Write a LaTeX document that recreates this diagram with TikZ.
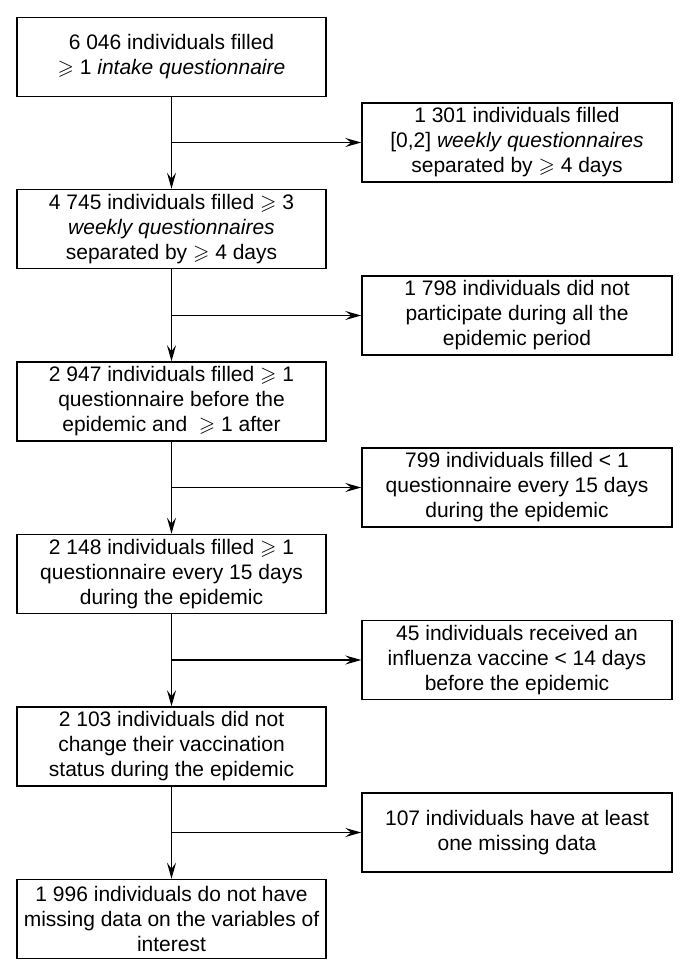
\documentclass[tikz,border=0pt]{standalone}
\usepackage{amssymb}
\usepackage{fontspec}
\setmainfont{Liberation Sans}
\usepackage{tikz}
\usetikzlibrary{arrows.meta,positioning,calc}

\newcommand{\atleast}{$\geqslant$}

\tikzset{
  stagebox/.style={draw,line width=1.5pt,minimum width=309pt,minimum height=79pt,
    align=center,inner sep=2pt,font=\fontsize{21pt}{25pt}\selectfont},
  dropbox/.style={stagebox,minimum width=310pt},
  flow/.style={line width=1.2pt,-{Stealth[length=16pt,width=9pt,inset=6pt]}}
}

\begin{document}
\begin{tikzpicture}[x=1pt,y=-1pt]
  \useasboundingbox (0,0) rectangle (690,976);

  % main stages
  \node[stagebox] (b1) at (171.5,57) {6 046 individuals filled\\ \atleast{} 1 \textit{intake questionnaire}};
  \node[stagebox] (b2) at (171.5,229) {4 745 individuals filled \atleast{} 3\\ \textit{weekly questionnaires}\\ separated by \atleast{} 4 days};
  \node[stagebox] (b3) at (171.5,401.5) {2 947 individuals filled \atleast{} 1\\ questionnaire before the\\ epidemic and \ \atleast{} 1 after};
  \node[stagebox] (b4) at (171.5,574) {2 148 individuals filled \atleast{} 1\\ questionnaire every 15 days\\ during the epidemic};
  \node[stagebox] (b5) at (171.5,746.5) {2 103 individuals did not\\ change their vaccination\\ status during the epidemic};
  \node[stagebox] (b6) at (171.5,919) {1 996 individuals do not have\\ missing data on the variables of\\ interest};

  % excluded
  \node[dropbox] (r1) at (517,142.5) {1 301 individuals filled\\ {[0,2]} \textit{weekly questionnaires}\\ separated by \atleast{} 4 days};
  \node[dropbox] (r2) at (517,315.5) {1 798 individuals did not\\ participate during all the\\ epidemic period};
  \node[dropbox] (r3) at (517,487.5) {799 individuals filled < 1\\ questionnaire every 15 days\\ during the epidemic};
  \node[dropbox] (r4) at (517,660) {45 individuals received an\\ influenza vaccine < 14 days\\ before the epidemic};
  \node[dropbox] (r5) at (517,832.5) {107 individuals have at least\\ one missing data};

  \foreach \i/\j in {1/2,2/3,3/4,4/5,5/6}{
    \draw[flow] (b\i) -- (b\j);
    \draw[flow] (r\i.west -| b\i.south) -- (r\i.west);
  }
\end{tikzpicture}
\end{document}
